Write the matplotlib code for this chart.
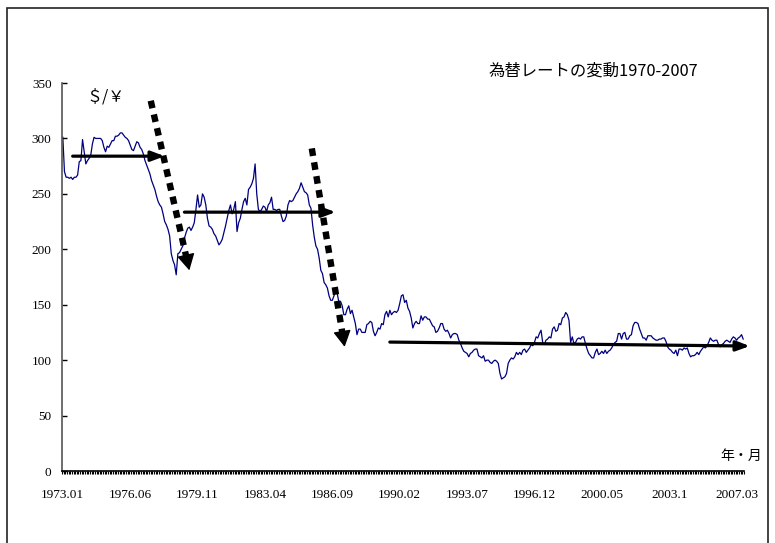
import numpy as np
import matplotlib
matplotlib.use("Agg")
import matplotlib.pyplot as plt
from matplotlib.patches import Rectangle

# monthly $/yen rate, 1973.01 - 2007.07
rate = [
    301, 270, 265, 265, 264, 265, 263, 265, 265, 267, 279, 280,   # 1973
    299, 288, 277, 280, 282, 285, 295, 301, 300, 300, 300, 300,   # 1974
    298, 292, 288, 293, 292, 295, 298, 298, 302, 302, 303, 305,   # 1975
    305, 303, 301, 300, 298, 294, 290, 289, 293, 297, 296, 292,   # 1976
    290, 286, 280, 276, 272, 268, 262, 258, 254, 248, 243, 240,   # 1977
    238, 232, 225, 222, 218, 212, 196, 190, 186, 177, 196, 197,   # 1978
    200, 203, 210, 215, 219, 220, 217, 220, 224, 236, 249, 238,   # 1979
    240, 250, 247, 240, 228, 221, 220, 218, 214, 212, 208, 204,   # 1980
    206, 209, 215, 221, 228, 235, 240, 232, 236, 243, 216, 224,   # 1981
    228, 236, 243, 246, 240, 254, 256, 259, 264, 277, 250, 236,   # 1982
    234, 236, 239, 238, 234, 240, 242, 247, 236, 236, 235, 236,   # 1983
    236, 230, 225, 226, 230, 240, 244, 243, 244, 247, 250, 252,   # 1984
    255, 260, 256, 252, 251, 249, 240, 237, 222, 211, 203, 200,   # 1985
    192, 181, 178, 170, 168, 165, 158, 154, 154, 158, 163, 160,   # 1986
    152, 153, 149, 141, 141, 146, 149, 142, 145, 139, 133, 123,   # 1987
    128, 128, 125, 125, 125, 132, 133, 135, 134, 126, 122, 125,   # 1988
    129, 128, 133, 132, 141, 144, 139, 145, 141, 143, 144, 143,   # 1989
    145, 151, 158, 159, 152, 154, 147, 144, 138, 129, 133, 135,   # 1990
    133, 133, 140, 136, 139, 139, 137, 137, 134, 131, 130, 125,   # 1991
    126, 129, 133, 133, 128, 126, 127, 124, 120, 123, 124, 124,   # 1992
    123, 118, 115, 111, 108, 107, 106, 103, 106, 107, 109, 110,   # 1993
    110, 104, 103, 102, 104, 99, 100, 100, 98, 97, 99, 100,       # 1994
    99, 97, 88, 83, 84, 85, 88, 97, 100, 102, 101, 103,           # 1995
    107, 105, 107, 105, 109, 110, 107, 109, 111, 114, 113, 116,   # 1996
    121, 120, 124, 127, 116, 114, 118, 119, 121, 120, 128, 130,   # 1997
    126, 127, 133, 132, 138, 139, 143, 141, 136, 116, 121, 115,   # 1998
    116, 119, 120, 119, 121, 121, 115, 110, 106, 104, 102, 102,   # 1999
    107, 110, 105, 106, 108, 106, 109, 106, 108, 109, 111, 114,   # 2000
    116, 117, 124, 124, 119, 124, 125, 119, 119, 122, 123, 131,   # 2001
    134, 134, 133, 128, 124, 120, 120, 118, 122, 122, 122, 120,   # 2002
    119, 118, 118, 119, 119, 120, 120, 117, 112, 110, 109, 107,   # 2003
    106, 109, 104, 110, 110, 109, 111, 110, 111, 106, 103, 104,   # 2004
    104, 105, 107, 105, 108, 110, 112, 111, 113, 116, 120, 118,   # 2005
    117, 118, 118, 114, 112, 114, 115, 117, 118, 117, 116, 119,   # 2006
    121, 120, 118, 120, 121, 123, 119,                            # 2007
]

tick_months = [0, 41, 82, 123, 164, 205, 246, 287, 328, 369, 410]
tick_labels = ["1973.01", "1976.06", "1979.11", "1983.04", "1986.09", "1990.02",
               "1993.07", "1996.12", "2000.05", "2003.1", "2007.03"]

# trend arrows (month index, rate)
solid_arrows = [((6, 284), (62, 284)), ((74, 233.5), (166, 233.5)), ((199, 116.3), (418, 112.7))]
dotted_arrows = [((53.5, 334), (77, 181)), ((151.5, 291), (171.5, 112))]

W, H = 775, 543
fig = plt.figure(figsize=(W / 100, H / 100), dpi=100)
ax = fig.add_axes([62 / W, 1 - 471 / H, (744 - 62) / W, (471 - 83) / H])

months = np.arange(len(rate))
ax.plot(months, rate, color="#000080", lw=0.9)

ax.set_xlim(-0.5, len(rate) - 0.5)
ax.set_ylim(0, 350)
ax.set_yticks(range(0, 351, 50))
ax.set_xticks(tick_months)
ax.set_xticklabels(tick_labels)
ax.set_xticks(np.arange(len(rate) + 1) - 0.5, minor=True)

for s in ["top", "right"]:
    ax.spines[s].set_visible(False)
ax.spines["left"].set_color("#555555")
ax.spines["left"].set_linewidth(1.2)
ax.spines["bottom"].set_linewidth(1.2)

serif = "Liberation Serif"
ax.tick_params(axis="y", direction="in", length=3.5, width=1, pad=7.5, labelsize=9.5)
ax.tick_params(axis="x", which="major", length=0, pad=13, labelsize=9.5)
ax.tick_params(axis="x", which="minor", direction="out", length=2.5, width=0.8)
for lab in ax.get_xticklabels() + ax.get_yticklabels():
    lab.set_fontfamily(serif)

for start, end in solid_arrows:
    ax.annotate("", xy=end, xytext=start, annotation_clip=False,
                arrowprops=dict(arrowstyle="-|>,head_length=0.8,head_width=0.3",
                                color="black", lw=2.3, shrinkA=0, shrinkB=0))

# dotted arrows: square-dot shaft plus a filled head
to_px = ax.transData.transform
to_data = ax.transData.inverted().transform
for start, end in dotted_arrows:
    p0, p1 = to_px(start), to_px(end)
    d = (p1 - p0) / np.hypot(*(p1 - p0))
    base = to_data(p1 - d * 14)
    ax.plot([start[0], base[0]], [start[1], base[1]], color="black", lw=4.6,
            linestyle=(0, (1.2, 1.0)), dash_capstyle="butt", clip_on=False)
    ax.annotate("", xy=end, xytext=to_data(p1 - d * 16), annotation_clip=False,
                arrowprops=dict(arrowstyle="-|>,head_length=1.0,head_width=0.55",
                                color="black", lw=1, shrinkA=0, shrinkB=0))

jp = ["Noto Sans CJK JP", "DejaVu Sans"]
fig.text(489 / W, 1 - 71 / H, "為替レートの変動1970-2007", family=jp, fontsize=11.8,
         ha="left", va="center")
fig.text(106 / W, 1 - 97 / H, "＄/￥", family=jp, fontsize=11.5, ha="center", va="center")
fig.text(741 / W, 1 - 456 / H, "年・月", family=jp, fontsize=10, ha="center", va="center")

# chart area border
fig.patches.append(Rectangle((7 / W, -0.02), (768 - 7) / W, 1 - 8 / H + 0.02,
                             transform=fig.transFigure, fill=False,
                             edgecolor="#222222", lw=1.2))

fig.savefig("out.png", dpi=100)
